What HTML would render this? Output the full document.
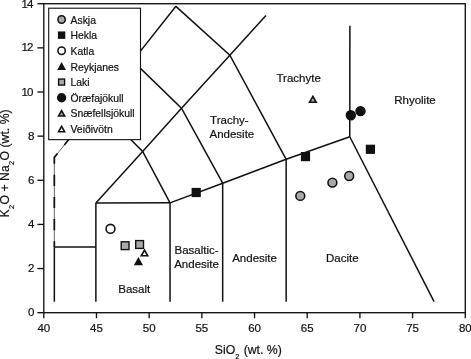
<!DOCTYPE html>
<html><head><meta charset="utf-8"><title>TAS diagram</title>
<style>html,body{margin:0;padding:0;background:#fff}svg{display:block}text{font-family:"Liberation Sans",sans-serif;fill:#111;stroke:#111;stroke-width:0.2px}</style></head><body>
<svg width="471" height="359" viewBox="0 0 471 359">
<rect width="471" height="359" fill="#fff"/>
<g fill="none" stroke="#111" stroke-width="1.5" stroke-linejoin="miter">
<polyline points="54.34,301.66 54.34,247.09"/>
<polyline points="54.34,247.09 95.88,247.09"/>
<polyline points="95.88,301.66 95.88,202.95"/>
<polyline points="95.88,202.95 170.04,202.85"/>
<polyline points="170.04,301.66 170.04,202.85"/>
<polyline points="170.04,202.85 222.68,183.19 286.15,159.31 349.77,136.74"/>
<polyline points="222.68,301.66 222.68,183.19"/>
<polyline points="286.15,301.66 286.15,159.31"/>
<polyline points="349.77,136.74 434.07,301.66"/>
<polyline points="349.77,136.74 349.87,25.79"/>
<polyline points="95.88,202.95 142.65,151.39 181.48,108.15 229.85,55.18 265.93,15.45"/>
<polyline points="170.04,202.85 142.65,151.39 96.48,105.24"/>
<polyline points="222.68,183.19 181.48,108.15 132.71,60.89 175.91,6.32"/>
<polyline points="286.15,159.31 229.85,55.18 175.91,6.32"/>
<polyline points="96.48,105.24 132.71,60.89"/>
<polyline points="54.34,247.09 54.34,157.41 96.48,105.24" stroke-width="0.75" stroke="#333"/>
<polyline points="54.34,247.09 54.34,157.41 96.48,105.24" stroke-dasharray="11.2 11" stroke-dashoffset="5.4" stroke-width="1.7"/>
</g>
<rect x="48.7" y="8.2" width="91.8" height="131.45" fill="#fff" stroke="#111" stroke-width="1.1"/>
<g fill="none" stroke="#111" stroke-width="1.35"><rect x="43.8" y="3.72" width="421.47999999999996" height="308.97999999999996"/>
<line x1="37.4" y1="312.7" x2="43.8" y2="312.7"/>
<line x1="37.4" y1="268.56" x2="43.8" y2="268.56"/>
<line x1="37.4" y1="224.42" x2="43.8" y2="224.42"/>
<line x1="37.4" y1="180.28" x2="43.8" y2="180.28"/>
<line x1="37.4" y1="136.14" x2="43.8" y2="136.14"/>
<line x1="37.4" y1="92.0" x2="43.8" y2="92.0"/>
<line x1="37.4" y1="47.86" x2="43.8" y2="47.86"/>
<line x1="37.4" y1="3.72" x2="43.8" y2="3.72"/>
<line x1="43.8" y1="312.7" x2="43.8" y2="318.2"/>
<line x1="96.48" y1="312.7" x2="96.48" y2="318.2"/>
<line x1="149.17" y1="312.7" x2="149.17" y2="318.2"/>
<line x1="201.86" y1="312.7" x2="201.86" y2="318.2"/>
<line x1="254.54" y1="312.7" x2="254.54" y2="318.2"/>
<line x1="307.23" y1="312.7" x2="307.23" y2="318.2"/>
<line x1="359.91" y1="312.7" x2="359.91" y2="318.2"/>
<line x1="412.6" y1="312.7" x2="412.6" y2="318.2"/>
<line x1="465.28" y1="312.7" x2="465.28" y2="318.2"/>
</g>
<g font-size="11.5">
<text x="27.9" y="316.45">0</text>
<text x="27.9" y="272.31">2</text>
<text x="27.9" y="228.17">4</text>
<text x="27.9" y="184.03">6</text>
<text x="27.9" y="139.89">8</text>
<text x="21.5 26.9" y="95.55">10</text>
<text x="21.5 26.9" y="51.41">12</text>
<text x="21.5 26.9" y="7.9">14</text>
</g>
<g font-size="11.5" text-anchor="middle">
<text x="43.8" y="331.7">40</text>
<text x="96.48" y="331.7">45</text>
<text x="149.17" y="331.7">50</text>
<text x="201.86" y="331.7">55</text>
<text x="254.54" y="331.7">60</text>
<text x="307.23" y="331.7">65</text>
<text x="359.91" y="331.7">70</text>
<text x="412.6" y="331.7">75</text>
<text x="465.28" y="331.7">80</text>
</g>
<text x="214.8" y="354.2" font-size="12.25">SiO<tspan font-size="7.4" dy="4.9">2</tspan><tspan dy="-4.9" dx="0.9"> (wt. %)</tspan></text>
<text transform="translate(8.8,217.5) rotate(-90)" font-size="12.3">K<tspan font-size="7.4" dy="4.9" dx="0.3">2</tspan><tspan dy="-4.9" dx="0.3">O + Na</tspan><tspan font-size="7.4" dy="4.9" dx="0.3">2</tspan><tspan dy="-4.9" dx="0.3">O (wt. %)</tspan></text>
<g font-size="11.5">
<text x="210.1" y="124.2">Trachy-</text>
<text x="209.5" y="137.5">Andesite</text>
<text x="276.5" y="81.85">Trachyte</text>
<text x="394.2" y="103.85">Rhyolite</text>
<text x="118.3" y="293">Basalt</text>
<text x="174.5" y="254">Basaltic-</text>
<text x="174.2" y="268">Andesite</text>
<text x="232.2" y="261.5">Andesite</text>
<text x="326" y="261.5">Dacite</text>
</g>
<g>
<circle cx="300.3" cy="195.9" r="4.45" fill="#a9a9a9" stroke="#111" stroke-width="1.55"/>
<circle cx="332.4" cy="182.6" r="4.45" fill="#a9a9a9" stroke="#111" stroke-width="1.55"/>
<circle cx="349.2" cy="176.0" r="4.45" fill="#a9a9a9" stroke="#111" stroke-width="1.55"/>
<rect x="192.29999999999998" y="188.6" width="7.8" height="7.8" fill="#111" stroke="#111" stroke-width="1.4"/>
<rect x="301.6" y="152.7" width="7.8" height="7.8" fill="#111" stroke="#111" stroke-width="1.4"/>
<rect x="366.5" y="145.4" width="7.8" height="7.8" fill="#111" stroke="#111" stroke-width="1.4"/>
<circle cx="110.5" cy="228.8" r="4.45" fill="#fff" stroke="#111" stroke-width="1.55"/>
<polygon points="138.4,256.9 143.0,265.2 133.8,265.2" fill="#111"/>
<rect x="121.19999999999999" y="241.79999999999998" width="7.8" height="7.8" fill="#a9a9a9" stroke="#111" stroke-width="1.4"/>
<rect x="135.7" y="240.6" width="7.8" height="7.8" fill="#a9a9a9" stroke="#111" stroke-width="1.4"/>
<circle cx="350.8" cy="115.2" r="4.45" fill="#111" stroke="#111" stroke-width="1.55"/>
<circle cx="360.5" cy="111.1" r="4.45" fill="#111" stroke="#111" stroke-width="1.55"/>
<polygon points="312.9,94.7 317.6,103.1 308.2,103.1" fill="#111"/><polygon points="312.9,97.98 314.87,101.5 310.93,101.5" fill="#a9a9a9"/>
<polygon points="144.5,248.6 149.1,256.6 139.9,256.6" fill="#111"/><polygon points="144.5,251.81 146.33,255.0 142.67,255.0" fill="#fff"/>
</g>
<g font-size="10.4">
<text x="70.5" y="23.9">Askja</text>
<circle cx="61.6" cy="19.5" r="3.7" fill="#a9a9a9" stroke="#111" stroke-width="1.55"/>
<text x="70.5" y="39.48">Hekla</text>
<rect x="58.6" y="32.14" width="6" height="6" fill="#111" stroke="#111" stroke-width="1.4"/>
<text x="70.5" y="55.06">Katla</text>
<circle cx="61.6" cy="50.78" r="3.7" fill="#fff" stroke="#111" stroke-width="1.55"/>
<text x="70.5" y="70.64">Reykjanes</text>
<polygon points="61.6,62.12 66.0,69.92 57.2,69.92" fill="#111"/>
<text x="70.5" y="86.22">Laki</text>
<rect x="58.6" y="79.06" width="6" height="6" fill="#a9a9a9" stroke="#111" stroke-width="1.4"/>
<text x="70.5" y="101.8">Öræfajökull</text>
<circle cx="61.6" cy="97.7" r="3.9" fill="#111" stroke="#111" stroke-width="1.55"/>
<text x="70.5" y="117.38">Snæfellsjökull</text>
<polygon points="61.6,109.04 66.0,116.84 57.2,116.84" fill="#111"/><polygon points="61.6,112.3 63.26,115.24 59.94,115.24" fill="#a9a9a9"/>
<text x="70.5" y="132.96">Veiðivötn</text>
<polygon points="61.6,124.68 66.0,132.48 57.2,132.48" fill="#111"/><polygon points="61.6,127.94 63.26,130.88 59.94,130.88" fill="#fff"/>
</g>
</svg></body></html>
